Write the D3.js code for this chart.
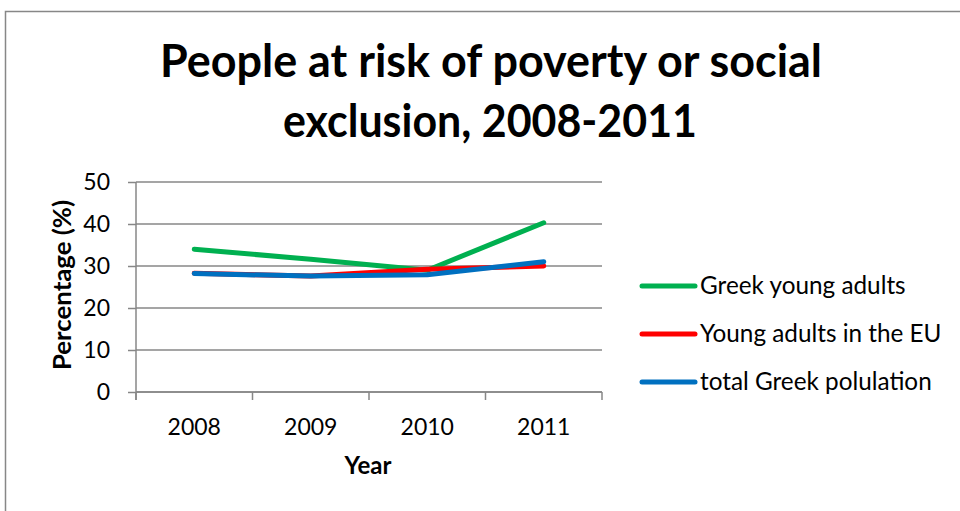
<!DOCTYPE html>
<html lang="en">
<head>
<meta charset="UTF-8">
<title>People at risk of poverty or social exclusion</title>
<script src="https://d3js.org/d3.v7.min.js"></script>
<style>
  body { margin: 0; background: #fff; }
  text { font-family: Lato, "Noto Sans", sans-serif; fill: #000; }
</style>
</head>
<body>
<svg width="960" height="511"></svg>
<script>
// data
var years = ["2008", "2009", "2010", "2011"];
var greekYoung = [34.0, 31.6, 29.0, 40.3];
var euYoung = [28.3, 27.6, 29.2, 30.0];
var greekTotal = [28.2, 27.6, 27.9, 31.0];
var seriesNames = ["Greek young adults", "Young adults in the EU", "total Greek polulation"];
var seriesColors = ["#00b050", "#ff0000", "#0070c0"];
var yTicks = [0, 10, 20, 30, 40, 50];

var series = [greekYoung, euYoung, greekTotal].map(function(vals, i) {
    return { name: seriesNames[i], color: seriesColors[i], values: vals };
});

var svg = d3.select("svg");
var grey = "#878787";

// outer chart border
svg.append("rect")
    .attr("x", 5.5).attr("y", 11.5)
    .attr("width", 1000).attr("height", 1000)
    .attr("fill", "none").attr("stroke", grey).attr("stroke-width", 1.5);

var plotLeft = 136, plotRight = 602, plotTop = 182, plotBottom = 392;

var x = d3.scaleBand().domain(years).range([plotLeft, plotRight]).padding(0);
var y = d3.scaleLinear().domain([0, 50]).range([plotBottom, plotTop]);

// gridlines
svg.append("g").selectAll("line")
    .data(yTicks).enter().append("line")
    .attr("x1", plotLeft).attr("x2", plotRight)
    .attr("y1", d => y(d)).attr("y2", d => y(d))
    .attr("stroke", grey).attr("stroke-width", 1.5);

// y axis
var yAxis = svg.append("g")
    .attr("transform", "translate(" + plotLeft + ",0)")
    .call(d3.axisLeft(y).tickValues(yTicks).tickSize(8).tickPadding(18));
yAxis.select(".domain").remove();
yAxis.selectAll(".tick line").attr("stroke", grey).attr("stroke-width", 1.5);
yAxis.selectAll(".tick text")
    .style("font-size", "23px").attr("font-family", "Lato");
svg.append("line")
    .attr("x1", plotLeft).attr("x2", plotLeft)
    .attr("y1", plotTop).attr("y2", plotBottom + 8)
    .attr("stroke", grey).attr("stroke-width", 1.5);

// x axis, ticks at category boundaries
var xAxis = svg.append("g")
    .attr("transform", "translate(0," + plotBottom + ")")
    .call(d3.axisBottom(x).tickSize(0).tickPadding(27));
xAxis.select(".domain").remove();
xAxis.selectAll(".tick text").style("font-size", "23px");
svg.append("line")
    .attr("x1", plotLeft).attr("x2", plotRight)
    .attr("y1", plotBottom).attr("y2", plotBottom)
    .attr("stroke", grey).attr("stroke-width", 1.5);
var bounds = years.map(d => x(d)).concat([x.range()[1]]);
svg.append("g").selectAll("line")
    .data(bounds).enter().append("line")
    .attr("x1", d => d).attr("x2", d => d)
    .attr("y1", plotBottom).attr("y2", plotBottom + 8)
    .attr("stroke", grey).attr("stroke-width", 1.5);

// lines
var line = d3.line()
    .x((d, i) => x(years[i]) + x.bandwidth() / 2)
    .y(d => y(d));

svg.append("g").selectAll("path")
    .data(series).enter().append("path")
    .attr("d", d => line(d.values))
    .attr("fill", "none")
    .attr("stroke", d => d.color)
    .attr("stroke-width", 5)
    .attr("stroke-linecap", "round")
    .attr("stroke-linejoin", "round");

// title
var title = svg.append("g").attr("font-weight", "bold").attr("text-anchor", "middle");
title.append("text").attr("x", 491).attr("y", 77)
    .style("font-size", "45px")
    .attr("textLength", 662).attr("lengthAdjust", "spacingAndGlyphs")
    .text("People at risk of poverty or social");
title.append("text").attr("x", 490).attr("y", 137)
    .style("font-size", "45px")
    .attr("textLength", 414).attr("lengthAdjust", "spacingAndGlyphs")
    .text("exclusion, 2008-2011");

// axis titles
svg.append("text")
    .attr("transform", "translate(71,285) rotate(-90)")
    .attr("text-anchor", "middle")
    .attr("font-weight", "bold")
    .style("font-size", "24px")
    .attr("textLength", 170).attr("lengthAdjust", "spacingAndGlyphs")
    .text("Percentage (%)");
svg.append("text")
    .attr("x", 368).attr("y", 474)
    .attr("text-anchor", "middle")
    .attr("font-weight", "bold")
    .style("font-size", "24px")
    .text("Year");

// legend
var legend = svg.append("g").selectAll("g")
    .data(series).enter().append("g")
    .attr("transform", (d, i) => "translate(642," + (286 + i * 48) + ")");
legend.append("line")
    .attr("x1", 0).attr("x2", 53)
    .attr("stroke", d => d.color)
    .attr("stroke-width", 5)
    .attr("stroke-linecap", "round");
legend.append("text")
    .attr("x", 58).attr("y", 8)
    .style("font-size", "24.3px")
    .text(d => d.name);
</script>
</body>
</html>
